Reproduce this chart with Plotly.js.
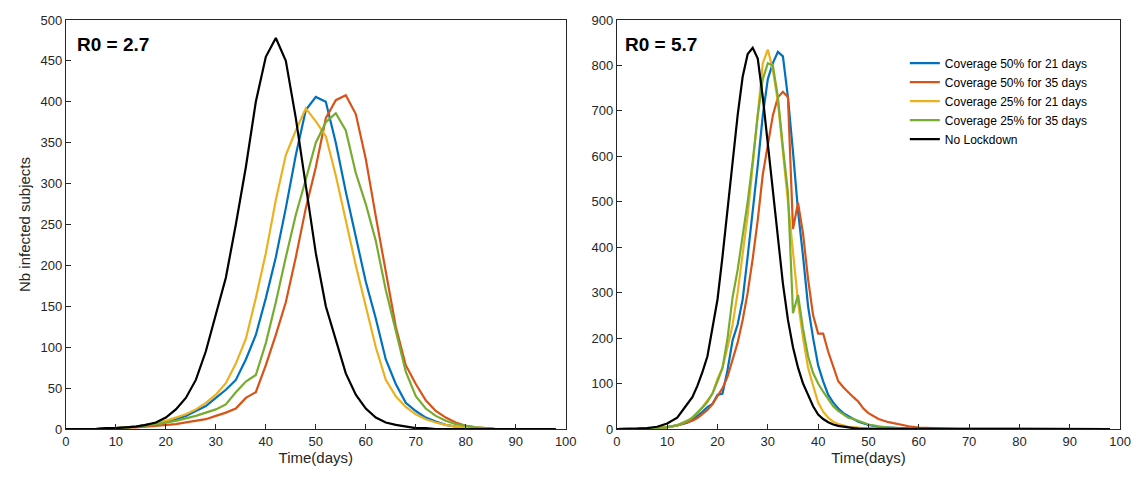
<!DOCTYPE html>
<html>
<head>
<script src="https://cdn.plot.ly/plotly-3.0.1.min.js"></script>
<style>body{margin:0;background:#fff}</style>
</head>
<body>
<div id="chart" style="width:1136px;height:482px"></div>
<script>
// left panel (R0 = 2.7), days 0..98 step 2
var daysL = [];
for (var d = 0; d <= 98; d += 2) daysL.push(d);
var noLockL = [0,0,0,0,1,1,2,3,5,8,14,24,38,60,95,140,185,250,320,400,455,478,450,380,295,215,150,110,68,42,25,14,8,5,3,1,1,0,0,0,0,0,0,0,0,0,0,0,0,0];
var c50d21L = [0,0,0,0,1,1,2,3,5,6,8,12,16,22,28,38,48,60,85,115,160,210,270,335,390,406,400,350,290,235,180,135,85,55,32,22,14,9,5,3,2,1,1,0,0,0,0,0,0,0];
var c50d35L = [0,0,0,0,1,1,2,2,3,4,5,6,8,10,12,16,20,25,38,45,78,115,155,210,270,320,380,402,408,385,330,260,190,125,78,55,35,22,14,8,4,2,1,0,0,0,0,0,0,0];
var c25d21L = [0,0,0,0,1,1,2,3,5,7,10,14,18,24,32,42,56,80,110,160,215,280,335,365,392,376,358,310,255,200,150,100,60,40,27,18,12,8,5,3,2,1,0,0,0,0,0,0,0,0];
var c25d35L = [0,0,0,0,1,1,2,3,4,6,8,10,13,16,20,24,30,45,58,66,105,155,210,262,305,350,375,386,365,313,275,230,170,120,70,40,25,16,10,6,4,2,1,0,0,0,0,0,0,0];

// right panel (R0 = 5.7)
var daysR = [0,2,4,6,8,10,12,14];
for (var d = 15; d <= 50; d++) daysR.push(d);
for (var d = 52; d <= 98; d += 2) daysR.push(d);
var zerosR = [0,0,0,0,0,0,0,0,0,0,0,0,0,0,0,0,0,0,0,0,0,0,0,0];
var noLockR = [0,0,1,2,5,12,25,55,
  70,95,125,160,220,285,380,480,580,690,775,825,839,815,730,630,530,420,320,240,180,135,100,75,50,32,22,15,10,7,5,3,2,1,1,0].concat(zerosR);
var c50d21R = [0,0,0,1,2,4,8,14,
  20,28,38,48,55,75,78,130,195,230,285,380,475,580,690,770,805,830,820,730,610,480,380,270,200,140,105,75,58,45,35,28,22,16,12,9]
  .concat([5,3,2,1,1,0,0,0,0,0,0,0,0,0,0,0,0,0,0,0,0,0,0,0]);
var c50d35R = [0,0,0,1,2,4,8,14,
  18,24,32,42,55,72,90,115,150,190,240,300,375,460,560,630,690,730,742,730,440,498,430,330,250,210,210,170,135,105,92,80,70,60,45,35]
  .concat([22,15,10,6,3,2,1,0,0,0,0,0,0,0,0,0,0,0,0,0,0,0,0,0]);
var c25d21R = [0,0,0,1,2,4,8,18,
  25,35,48,62,78,110,135,180,230,300,380,470,580,700,805,835,790,720,610,490,380,280,200,135,95,58,38,25,16,11,8,5,4,3,2,1]
  .concat([1,0,0,0,0,0,0,0,0,0,0,0,0,0,0,0,0,0,0,0,0,0,0,0]);
var c25d35R = [0,0,0,1,2,4,8,18,
  25,35,47,60,78,105,135,200,290,350,420,500,590,690,770,805,800,730,620,520,255,295,220,160,123,100,82,65,50,40,32,25,22,18,14,10]
  .concat([6,3,2,1,0,0,0,0,0,0,0,0,0,0,0,0,0,0,0,0,0,0,0,0]);

var names = ['Coverage 50% for 21 days','Coverage 50% for 35 days','Coverage 25% for 21 days','Coverage 25% for 35 days','No Lockdown'];
var colors = ['#0072BD','#D95319','#EDB120','#77AC30','#000000'];
var seriesL = [c50d21L, c50d35L, c25d21L, c25d35L, noLockL];
var seriesR = [c50d21R, c50d35R, c25d21R, c25d35R, noLockR];

var data = [];
for (var i = 0; i < 5; i++) {
    data.push({x: daysL, y: seriesL[i], type: 'scatter', mode: 'lines', name: names[i],
        line: {color: colors[i], width: 2.2}, showlegend: false, xaxis: 'x', yaxis: 'y'});
}
for (var i = 0; i < 5; i++) {
    data.push({x: daysR, y: seriesR[i], type: 'scatter', mode: 'lines', name: names[i],
        line: {color: colors[i], width: 2.2}, xaxis: 'x2', yaxis: 'y2'});
}

var ax = {
    showline: true, mirror: true, linecolor: '#262626', linewidth: 1,
    ticks: 'inside', ticklen: 5, tickcolor: '#262626', showgrid: false, zeroline: false,
    tickfont: {size: 13, color: '#262626'}
};
function axis(extra) { return Object.assign({}, ax, extra); }

var layout = {
    width: 1136, height: 482,
    margin: {l: 0, r: 0, t: 20, b: 53},
    paper_bgcolor: '#fff', plot_bgcolor: '#fff',
    font: {family: 'Liberation Sans, Arial, sans-serif', color: '#262626'},
    xaxis: axis({domain: [0.058, 0.498], range: [0, 100], dtick: 10, anchor: 'y',
        title: {text: 'Time(days)', font: {size: 15}, standoff: 4}}),
    yaxis: axis({domain: [0, 1], range: [0, 500], dtick: 50, anchor: 'x',
        title: {text: 'Nb infected subjects', font: {size: 15}, standoff: 6}}),
    xaxis2: axis({domain: [0.543, 0.986], range: [0, 100], dtick: 10, anchor: 'y2',
        title: {text: 'Time(days)', font: {size: 15}, standoff: 4}}),
    yaxis2: axis({domain: [0, 1], range: [0, 900], dtick: 100, anchor: 'x2'}),
    showlegend: true,
    legend: {x: 0.962, y: 0.93, xanchor: 'right', yanchor: 'top', xref: 'paper', yref: 'paper',
        font: {size: 12, color: '#000'}, bgcolor: 'rgba(255,255,255,1)', tracegroupgap: 0},
    annotations: [
        {text: '<b>R0 = 2.7</b>', xref: 'paper', yref: 'paper', x: 0.066, y: 0.97,
         xanchor: 'left', yanchor: 'top', showarrow: false, font: {size: 19, color: '#000'}},
        {text: '<b>R0 = 5.7</b>', xref: 'paper', yref: 'paper', x: 0.548, y: 0.97,
         xanchor: 'left', yanchor: 'top', showarrow: false, font: {size: 19, color: '#000'}}
    ]
};

Plotly.newPlot('chart', data, layout, {displayModeBar: false, staticPlot: true});
</script>
</body>
</html>
